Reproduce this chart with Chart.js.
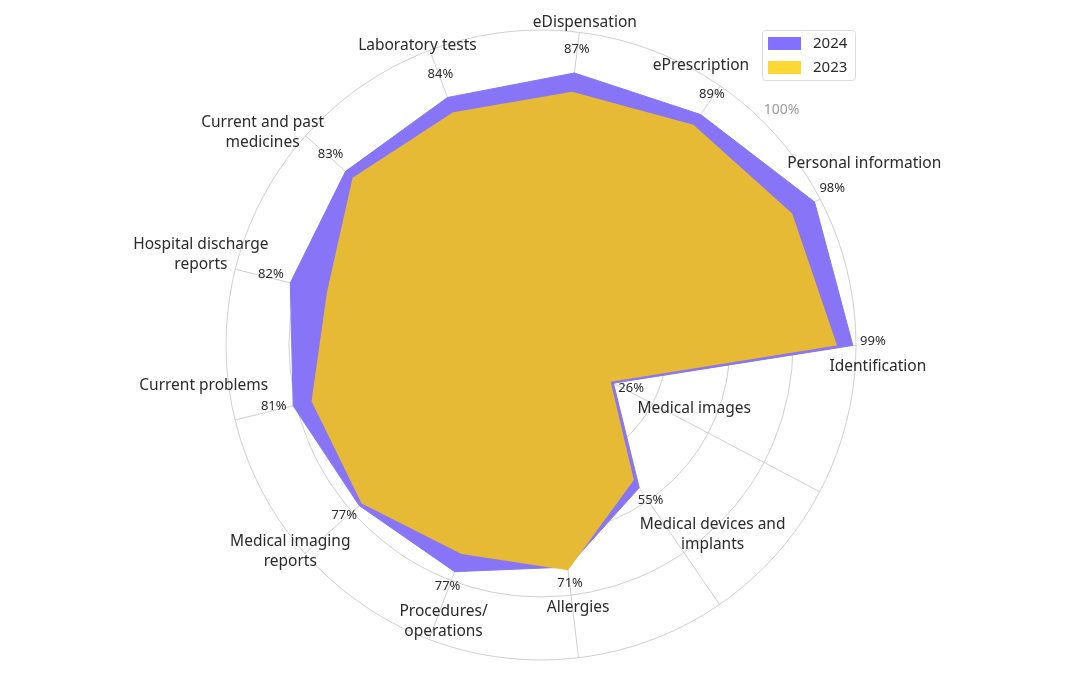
<!DOCTYPE html>
<html><head><meta charset="utf-8">
<script src="https://cdn.jsdelivr.net/npm/chart.js@4.4.1/dist/chart.umd.min.js"></script>
<style>html,body{margin:0;padding:0;background:#fff;}#wrap{width:1080px;height:675px;}</style>
</head><body><div id="wrap"><canvas id="c" width="1080" height="675"></canvas></div>
<script>
// ---- data ----
const categories = [
  ["eDispensation"], ["ePrescription"], ["Personal information"], ["Identification"],
  ["Medical images"], ["Medical devices and", "implants"], ["Allergies"],
  ["Procedures/", "operations"], ["Medical imaging", "reports"], ["Current problems"],
  ["Hospital discharge", "reports"], ["Current and past", "medicines"], ["Laboratory tests"]
];
const values2024 = [87, 89, 98, 99, 26, 55, 71, 77, 77, 81, 82, 83, 84];
const values2023 = [81, 85, 90, 94, 25, 52, 72, 71, 76, 75, 70, 80, 79];
const seriesNames = ["2024", "2023"];
const maxTickLabel = "100%";

// ---- layout (text nudges relative to the value label) ----
const catNudge = [[8,-27],[-11,-28],[32,-25],[5,25],[63,20],[62,24],[8,25],[-4,25],[-54,27],[-70,-21],[-70,-9],[-68,-12],[-23,-29]];
const fillColors = ["#8774F6", "#E6BA35"];
const legendColors = ["#8470FF", "#FDD835"];
const FONT = '"Noto Sans", "Open Sans", sans-serif';

const labelPlugin = {
  id: 'labels',
  afterDatasetsDraw(chart) {
    const ctx = chart.ctx, s = chart.scales.r;
    ctx.save();
    ctx.fillStyle = '#2a2a2a';
    ctx.textAlign = 'center';
    ctx.textBaseline = 'middle';
    for (let i = 0; i < categories.length; i++) {
      const d = s.getDistanceFromCenterForValue(values2024[i]) + 20;
      const p = s.getPointPosition(i, d);
      const px = p.x, py = p.y - 4;
      ctx.font = '13px ' + FONT;
      ctx.fillText(values2024[i] + '%', px, py);
      ctx.font = '15.5px ' + FONT;
      const lines = categories[i], n = lines.length;
      const [dx, dy] = catNudge[i];
      for (let k = 0; k < n; k++) {
        const y = dy < 0 ? py + dy - (n - 1 - k) * 20 : py + dy + k * 20;
        ctx.fillText(lines[k], px + dx, y);
      }
    }
    // max tick label
    const R = s.getDistanceFromCenterForValue(100) + 21;
    const a = 45.7 * Math.PI / 180;
    ctx.font = '14px ' + FONT;
    ctx.fillStyle = '#9a9a9a';
    ctx.fillText(maxTickLabel, s.xCenter + R * Math.sin(a), s.yCenter - R * Math.cos(a));
    // legend
    const lx = 762, ly = 30, lw = 93, lh = 50;
    ctx.strokeStyle = '#dcdcdc';
    ctx.lineWidth = 1;
    ctx.beginPath();
    ctx.roundRect(lx + 0.5, ly + 0.5, lw, lh, 3);
    ctx.stroke();
    chart.data.datasets.forEach((ds, j) => {
      const cy = ly + 13 + j * 24;
      ctx.fillStyle = legendColors[j];
      ctx.fillRect(lx + 6, cy - 6, 33, 13);
      ctx.fillStyle = '#2a2a2a';
      ctx.font = '15px ' + FONT;
      ctx.textAlign = 'left';
      ctx.fillText(ds.label, lx + 51, cy + 1);
    });
    ctx.restore();
  }
};

new Chart(document.getElementById('c'), {
  type: 'radar',
  data: {
    labels: categories,
    datasets: [
      { label: seriesNames[0], data: values2024, backgroundColor: fillColors[0], borderColor: fillColors[0], borderWidth: 1, pointRadius: 0, fill: true, order: 2 },
      { label: seriesNames[1], data: values2023, backgroundColor: fillColors[1], borderColor: fillColors[1], borderWidth: 0, pointRadius: 0, fill: true, order: 1 }
    ]
  },
  options: {
    responsive: false,
    animation: false,
    devicePixelRatio: 1,
    layout: { padding: { top: 30, bottom: 15, left: 2, right: 0 } },
    plugins: { legend: { display: false }, tooltip: { enabled: false } },
    elements: { line: { tension: 0 } },
    scales: {
      r: {
        min: 0, max: 100,
        startAngle: 7,
        ticks: { display: false, stepSize: 20 },
        grid: { color: '#cfcfcf', lineWidth: 1, circular: true },
        angleLines: { color: '#cfcfcf', lineWidth: 1 },
        pointLabels: { display: false }
      }
    }
  },
  plugins: [labelPlugin]
});
</script></body></html>
